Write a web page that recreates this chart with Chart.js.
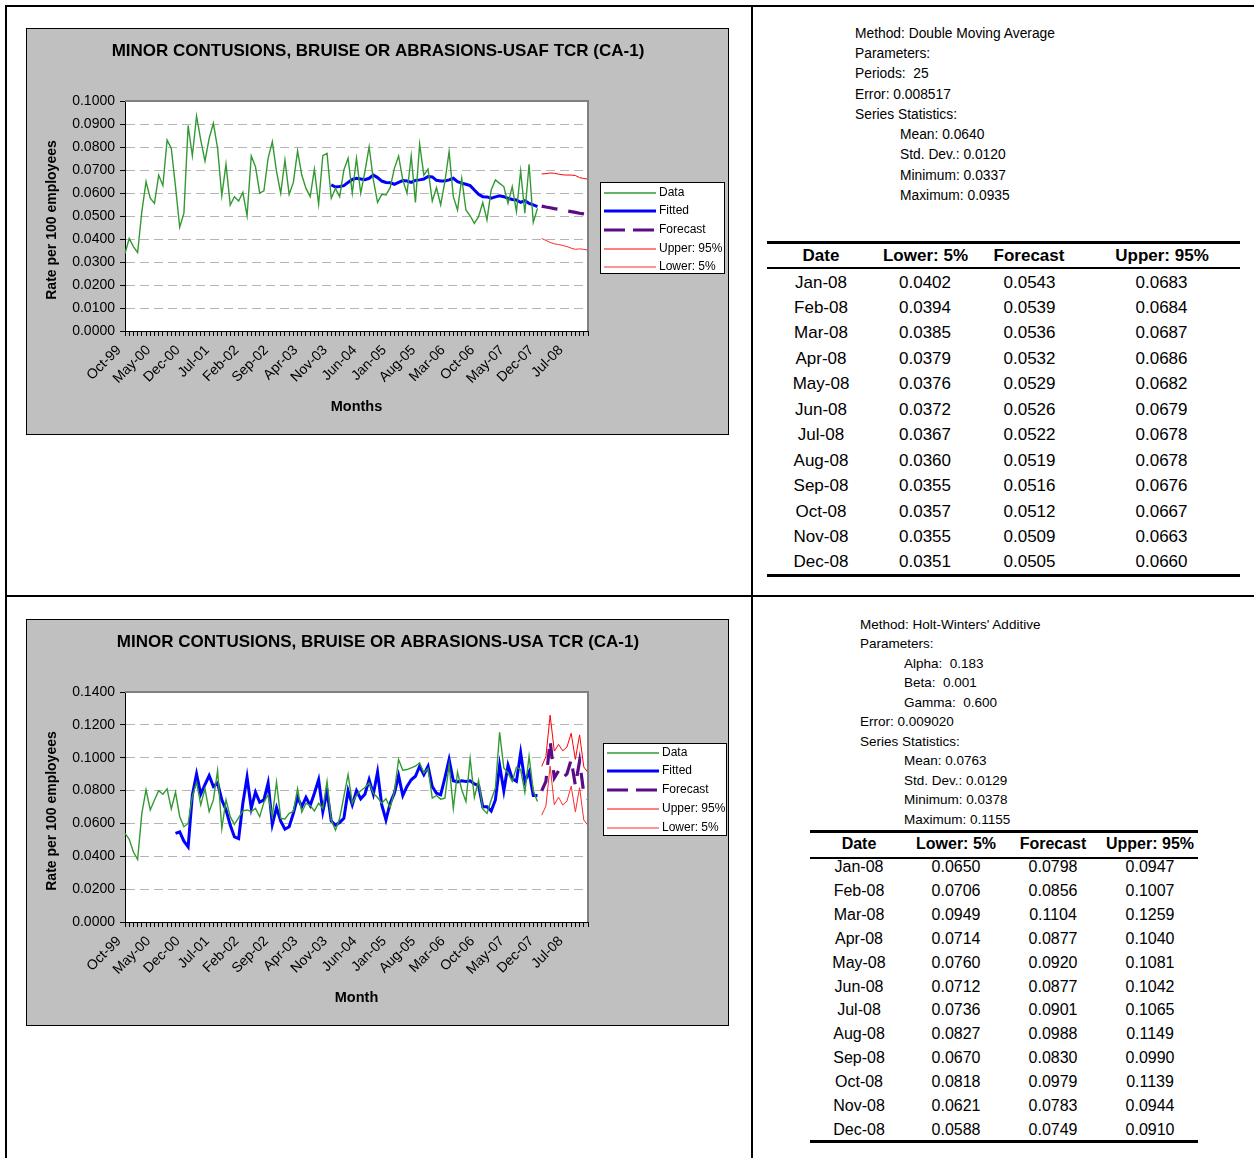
<!DOCTYPE html>
<html>
<head>
<meta charset="utf-8">
<title>Minor contusions, bruise or abrasions TCR (CA-1)</title>
<script src="https://cdn.jsdelivr.net/npm/chart.js@4.4.1/dist/chart.umd.min.js"></script>
<style>
  html, body { margin: 0; padding: 0; background: #fff; }
  body { width: 1254px; height: 1158px; position: relative; overflow: hidden;
         font-family: "Liberation Sans", Arial, sans-serif; color: #000; }
  .rule { position: absolute; background: #000; }
  .box { position: absolute; background: #c0c0c0; border: 1px solid #000; }
  .box canvas { display: block; }
  .t { position: absolute; white-space: pre; line-height: 1; }
  .c { position: absolute; white-space: pre; line-height: 1; text-align: center; width: 160px; }
</style>
</head>
<body>

<!-- page grid -->
<div class="rule" style="left:5px;top:5px;width:1249px;height:2px"></div>
<div class="rule" style="left:5px;top:5px;width:2px;height:1153px"></div>
<div class="rule" style="left:751px;top:5px;width:2px;height:1153px"></div>
<div class="rule" style="left:5px;top:595px;width:1249px;height:2px"></div>

<div class="box" style="left:26px;top:28px;width:701px;height:405px"><canvas id="usafChart" width="701" height="405"></canvas></div>
<div class="box" style="left:26px;top:619px;width:701px;height:405px"><canvas id="usaChart" width="701" height="405"></canvas></div>

<div id="usafStats"></div>
<div id="usafTable"></div>
<div id="usaStats"></div>
<div id="usaTable"></div>

<script>
// ---- categories -------------------------------------------------------
const months = [
  'Oct-99','Nov-99','Dec-99',
  'Jan-00','Feb-00','Mar-00','Apr-00','May-00','Jun-00','Jul-00','Aug-00','Sep-00','Oct-00','Nov-00','Dec-00',
  'Jan-01','Feb-01','Mar-01','Apr-01','May-01','Jun-01','Jul-01','Aug-01','Sep-01','Oct-01','Nov-01','Dec-01',
  'Jan-02','Feb-02','Mar-02','Apr-02','May-02','Jun-02','Jul-02','Aug-02','Sep-02','Oct-02','Nov-02','Dec-02',
  'Jan-03','Feb-03','Mar-03','Apr-03','May-03','Jun-03','Jul-03','Aug-03','Sep-03','Oct-03','Nov-03','Dec-03',
  'Jan-04','Feb-04','Mar-04','Apr-04','May-04','Jun-04','Jul-04','Aug-04','Sep-04','Oct-04','Nov-04','Dec-04',
  'Jan-05','Feb-05','Mar-05','Apr-05','May-05','Jun-05','Jul-05','Aug-05','Sep-05','Oct-05','Nov-05','Dec-05',
  'Jan-06','Feb-06','Mar-06','Apr-06','May-06','Jun-06','Jul-06','Aug-06','Sep-06','Oct-06','Nov-06','Dec-06',
  'Jan-07','Feb-07','Mar-07','Apr-07','May-07','Jun-07','Jul-07','Aug-07','Sep-07','Oct-07','Nov-07','Dec-07',
  'Jan-08','Feb-08','Mar-08','Apr-08','May-08','Jun-08','Jul-08','Aug-08','Sep-08','Oct-08','Nov-08','Dec-08'
];
const axisTickLabels = ['Oct-99','May-00','Dec-00','Jul-01','Feb-02','Sep-02','Apr-03','Nov-03',
  'Jun-04','Jan-05','Aug-05','Mar-06','Oct-06','May-07','Dec-07','Jul-08'];
const forecastMonths = ['Jan-08','Feb-08','Mar-08','Apr-08','May-08','Jun-08',
  'Jul-08','Aug-08','Sep-08','Oct-08','Nov-08','Dec-08'];

// ---- USAF: monthly rate, Oct-99 .. Dec-07 -------------------------------
const usafData = [
  0.0337, 0.0403, 0.0367, 0.0341, 0.0519, 0.0649, 0.0577, 0.0555, 0.0678, 0.0632,
  0.0830, 0.0794, 0.0628, 0.0451, 0.0512, 0.0893, 0.0762, 0.0935, 0.0830, 0.0739,
  0.0838, 0.0903, 0.0794, 0.0588, 0.0725, 0.0548, 0.0584, 0.0565, 0.0603, 0.0501,
  0.0761, 0.0714, 0.0599, 0.0609, 0.0751, 0.0823, 0.0693, 0.0599, 0.0743, 0.0594,
  0.0646, 0.0783, 0.0678, 0.0620, 0.0584, 0.0704, 0.0551, 0.0762, 0.0772, 0.0577,
  0.0620, 0.0584, 0.0700, 0.0751, 0.0599, 0.0751, 0.0599, 0.0693, 0.0801, 0.0657,
  0.0559, 0.0594, 0.0591, 0.0623, 0.0707, 0.0761, 0.0657, 0.0599, 0.0761, 0.0559,
  0.0812, 0.0678, 0.0704, 0.0565, 0.0623, 0.0548, 0.0649, 0.0780, 0.0584, 0.0526,
  0.0664, 0.0526, 0.0501, 0.0468, 0.0497, 0.0559, 0.0483, 0.0613, 0.0657, 0.0642,
  0.0628, 0.0555, 0.0628, 0.0519, 0.0696, 0.0512, 0.0725, 0.0472, 0.0533
];
// double moving average fit, Nov-03 .. Dec-07
const usafFittedStart = 'Nov-03';
const usafFitted = [
  0.0635, 0.0626, 0.0628, 0.0632, 0.0646, 0.0659, 0.0664, 0.0661, 0.0658, 0.0664,
  0.0678, 0.0667, 0.0652, 0.0646, 0.0645, 0.0638, 0.0646, 0.0654, 0.0652, 0.0646,
  0.0655, 0.0657, 0.0661, 0.0672, 0.0670, 0.0655, 0.0652, 0.0652, 0.0657, 0.0664,
  0.0649, 0.0643, 0.0638, 0.0632, 0.0613, 0.0594, 0.0584, 0.0583, 0.0577, 0.0583,
  0.0588, 0.0584, 0.0577, 0.0572, 0.0570, 0.0559, 0.0567, 0.0555, 0.0548, 0.0541
];
const usafLower    = [0.0402, 0.0394, 0.0385, 0.0379, 0.0376, 0.0372, 0.0367, 0.0360, 0.0355, 0.0357, 0.0355, 0.0351];
const usafForecast = [0.0543, 0.0539, 0.0536, 0.0532, 0.0529, 0.0526, 0.0522, 0.0519, 0.0516, 0.0512, 0.0509, 0.0505];
const usafUpper    = [0.0683, 0.0684, 0.0687, 0.0686, 0.0682, 0.0679, 0.0678, 0.0678, 0.0676, 0.0667, 0.0663, 0.0660];

// ---- USA: monthly rate, Oct-99 .. Dec-07 --------------------------------
const usaData = [
  0.0539, 0.0504, 0.0426, 0.0381, 0.0661, 0.0805, 0.0682, 0.0743, 0.0799, 0.0778,
  0.0811, 0.0688, 0.0790, 0.0641, 0.0580, 0.0600, 0.0764, 0.0850, 0.0713, 0.0811,
  0.0672, 0.0743, 0.0922, 0.0569, 0.0743, 0.0641, 0.0594, 0.0635, 0.0676, 0.0682,
  0.0672, 0.0692, 0.0641, 0.0729, 0.0774, 0.0641, 0.0852, 0.0631, 0.0627, 0.0661,
  0.0672, 0.0811, 0.0668, 0.0723, 0.0709, 0.0676, 0.0723, 0.0692, 0.0856, 0.0621,
  0.0559, 0.0631, 0.0764, 0.0897, 0.0723, 0.0774, 0.0799, 0.0819, 0.0846, 0.0784,
  0.0758, 0.0723, 0.0750, 0.0696, 0.0795, 0.0989, 0.0924, 0.0928, 0.0938, 0.0948,
  0.0969, 0.0907, 0.0934, 0.0754, 0.0770, 0.0748, 0.0754, 0.0958, 0.0692, 0.0913,
  0.0805, 0.0733, 0.0995, 0.0758, 0.0862, 0.0688, 0.0661, 0.0743, 0.0815, 0.1155,
  0.0938, 0.0907, 0.0856, 0.0942, 0.0928, 0.0790, 0.1010, 0.0799, 0.0733
];
// Holt-Winters additive fit, Oct-00 .. Dec-07
const usaFittedStart = 'Oct-00';
const usaFitted = [
  0.0539, 0.0549, 0.0492, 0.0457, 0.0774, 0.0901, 0.0778, 0.0836, 0.0891, 0.0825,
  0.0846, 0.0743, 0.0682, 0.0590, 0.0518, 0.0508, 0.0723, 0.0881, 0.0692, 0.0790,
  0.0729, 0.0743, 0.0846, 0.0594, 0.0696, 0.0614, 0.0565,
  0.0580, 0.0661, 0.0758, 0.0702, 0.0758, 0.0709, 0.0784, 0.0866, 0.0672, 0.0795,
  0.0614, 0.0590, 0.0606, 0.0631, 0.0799, 0.0713, 0.0799, 0.0750, 0.0778, 0.0866,
  0.0778, 0.0913, 0.0713, 0.0621, 0.0723, 0.0784, 0.0891, 0.0770, 0.0825, 0.0866,
  0.0887, 0.0948, 0.0897, 0.0948, 0.0825, 0.0784, 0.0774, 0.0877, 0.0989, 0.0860,
  0.0852, 0.0860, 0.0856, 0.0860, 0.0840, 0.0831, 0.0702, 0.0702, 0.0676, 0.0743,
  0.0954, 0.0799, 0.0954, 0.0872, 0.0856, 0.1030, 0.0856, 0.0913, 0.0770, 0.0770
];
const usaLower    = [0.0650, 0.0706, 0.0949, 0.0714, 0.0760, 0.0712, 0.0736, 0.0827, 0.0670, 0.0818, 0.0621, 0.0588];
const usaForecast = [0.0798, 0.0856, 0.1104, 0.0877, 0.0920, 0.0877, 0.0901, 0.0988, 0.0830, 0.0979, 0.0783, 0.0749];
const usaUpper    = [0.0947, 0.1007, 0.1259, 0.1040, 0.1081, 0.1042, 0.1065, 0.1149, 0.0990, 0.1139, 0.0944, 0.0910];

// ---- side panel text --------------------------------------------------
const usafStatsLines = [
  ['Method: Double Moving Average', 0], ['Parameters:', 0], ['Periods:  25', 0],
  ['Error: 0.008517', 0], ['Series Statistics:', 0],
  ['Mean: 0.0640', 1], ['Std. Dev.: 0.0120', 1], ['Minimum: 0.0337', 1], ['Maximum: 0.0935', 1]
];
const usaStatsLines = [
  ["Method: Holt-Winters' Additive", 0], ['Parameters:', 0],
  ['Alpha:  0.183', 1], ['Beta:  0.001', 1], ['Gamma:  0.600', 1],
  ['Error: 0.009020', 0], ['Series Statistics:', 0],
  ['Mean: 0.0763', 1], ['Std. Dev.: 0.0129', 1], ['Minimum: 0.0378', 1], ['Maximum: 0.1155', 1]
];
const tableHeader = ['Date', 'Lower: 5%', 'Forecast', 'Upper: 95%'];
const yAxisTitle = 'Rate per 100 employees';

// ---- helpers ------------------------------------------------------------
const FONT = '"Liberation Sans", Arial, sans-serif';

function placeAt(label, values) {
  const out = months.map(() => null);
  const s = months.indexOf(label);
  values.forEach((v, k) => { out[s + k] = v; });
  return out;
}

function addText(parent, cls, text, x, yCenter, size, bold) {
  const d = document.createElement('div');
  d.className = cls;
  d.textContent = text;
  d.style.fontSize = size + 'px';
  if (bold) d.style.fontWeight = 'bold';
  d.style.left = (cls === 'c' ? x - 80 : x) + 'px';
  d.style.top = (yCenter - size * 0.5) + 'px';
  parent.appendChild(d);
}

function addRule(parent, x, y, w, h) {
  const d = document.createElement('div');
  d.className = 'rule';
  Object.assign(d.style, { left: x + 'px', top: y + 'px', width: w + 'px', height: h + 'px' });
  parent.appendChild(d);
}

function buildStats(id, lines, x0, indent, y0, dy, size) {
  const el = document.getElementById(id);
  lines.forEach(([txt, ind], i) => addText(el, 't', txt, ind ? indent : x0, y0 + i * dy, size, false));
}

function buildTable(id, spec, lower, fc, upper) {
  const el = document.getElementById(id);
  tableHeader.forEach((h, c) => addText(el, 'c', h, spec.headX[c], spec.headY, spec.size, true));
  forecastMonths.forEach((m, r) => {
    const y = spec.rowY0 + r * spec.rowDy;
    const cells = [m, lower[r].toFixed(4), fc[r].toFixed(4), upper[r].toFixed(4)];
    cells.forEach((txt, c) => addText(el, 'c', txt, spec.colX[c], y, spec.size, false));
  });
  spec.rules.forEach(r => addRule(el, r[0], r[1], r[2], r[3]));
}

// white plot area, grey frame on its open sides, centred heading and y title
const plotFrame = {
  id: 'plotFrame',
  beforeDraw(chart, args, o) {
    const a = chart.chartArea, ctx = chart.ctx;
    ctx.save();
    ctx.fillStyle = '#ffffff';
    ctx.fillRect(a.left, a.top, a.right - a.left, a.bottom - a.top);
    ctx.fillStyle = '#000000';
    ctx.font = 'bold 17px ' + FONT;
    ctx.textAlign = 'center';
    ctx.textBaseline = 'middle';
    ctx.fillText(o.heading, o.headingX, o.headingY);
    ctx.translate(o.yTitleX, (a.top + a.bottom) / 2 + o.yTitleShift);
    ctx.rotate(-Math.PI / 2);
    ctx.font = 'bold 14px ' + FONT;
    ctx.fillText(yAxisTitle, 0, 0);
    ctx.restore();
  },
  afterDatasetsDraw(chart) {
    const a = chart.chartArea, ctx = chart.ctx;
    ctx.save();
    ctx.strokeStyle = '#808080';
    ctx.lineWidth = 2;
    ctx.beginPath();
    ctx.moveTo(a.left, a.top);
    ctx.lineTo(a.right, a.top);
    ctx.lineTo(a.right, a.bottom);
    ctx.stroke();
    ctx.restore();
  }
};

// boxed legend at a fixed spot beside the plot
const boxLegend = {
  id: 'boxLegend',
  afterDraw(chart, args, o) {
    const ctx = chart.ctx;
    ctx.save();
    ctx.fillStyle = '#ffffff';
    ctx.fillRect(o.x, o.y, o.w, o.h);
    ctx.strokeStyle = '#000000';
    ctx.lineWidth = 1;
    ctx.strokeRect(o.x + 0.5, o.y + 0.5, o.w, o.h);
    chart.data.datasets.forEach((ds, i) => {
      const y = Math.round(o.y + o.first + i * o.gap);
      ctx.beginPath();
      ctx.strokeStyle = ds.borderColor;
      ctx.lineWidth = ds.legendWidth || ds.borderWidth;
      ctx.setLineDash(ds.legendDash || []);
      ctx.moveTo(o.x + 4, y);
      ctx.lineTo(o.x + 56, y);
      ctx.stroke();
      ctx.setLineDash([]);
      ctx.fillStyle = '#000000';
      ctx.font = '12px ' + FONT;
      ctx.textBaseline = 'middle';
      ctx.textAlign = 'left';
      ctx.fillText(ds.label, o.x + 59, y);
    });
    ctx.restore();
  }
};

function makeChart(canvasId, cfg) {
  const datasets = [
    { label: 'Data', data: cfg.data, borderColor: '#339933', borderWidth: 1.4 },
    { label: 'Fitted', data: cfg.fitted, borderColor: '#0000ff', borderWidth: 3 },
    { label: 'Forecast', data: cfg.forecast, borderColor: '#5c0b86', borderWidth: 3.2,
      borderDash: [16, 11], legendDash: [21, 8] },
    { label: 'Upper: 95%', data: cfg.upper, borderColor: '#ff0000', borderWidth: 1, legendWidth: 1.2 },
    { label: 'Lower: 5%', data: cfg.lower, borderColor: '#ff2a2a', borderWidth: 1, legendWidth: 1.2 }
  ].map(d => Object.assign({ pointRadius: 0, pointHoverRadius: 0, tension: 0, fill: false, spanGaps: false }, d));

  return new Chart(document.getElementById(canvasId), {
    type: 'line',
    data: { labels: months, datasets },
    plugins: [plotFrame, boxLegend],
    options: {
      responsive: false,
      animation: false,
      devicePixelRatio: 1,
      layout: { padding: { left: 0, right: 140, top: 72, bottom: 0 } },
      plugins: {
        legend: { display: false },
        tooltip: { enabled: false },
        title: { display: false },
        plotFrame: { heading: cfg.title, headingX: 351, headingY: 22.5, yTitleX: 25.5, yTitleShift: 4 },
        boxLegend: cfg.legend
      },
      scales: {
        x: {
          type: 'category', offset: false,
          grid: { display: true, drawOnChartArea: false, drawTicks: true, tickLength: 5,
                  tickColor: '#000', tickWidth: 1, tickBorderDash: [] },
          border: { display: true, color: '#000', width: 1 },
          ticks: {
            autoSkip: false, minRotation: 45, maxRotation: 45, padding: 6, labelOffset: -6,
            color: '#000', font: { family: FONT, size: 14 },
            callback: function (value) {
              const lab = this.getLabelForValue(value);
              return axisTickLabels.includes(lab) ? lab : '';
            }
          },
          title: { display: true, text: cfg.xTitle, color: '#000',
                   font: { family: FONT, size: 14.5, weight: 'bold', lineHeight: 1.2 },
                   padding: { top: 0, bottom: 18 } },
          afterFit(scale) { scale.height = 103; }
        },
        y: {
          min: 0, max: cfg.yMax,
          grid: {
            drawOnChartArea: true, drawTicks: true, tickLength: 5,
            color: (c) => (c.tick && c.tick.value === 0) ? 'rgba(0,0,0,0)' : '#b4b4b4',
            tickColor: '#000', tickWidth: 1, tickBorderDash: []
          },
          border: { display: true, color: '#000', width: 1, dash: [9, 5] },
          ticks: {
            stepSize: cfg.yStep, padding: 5, color: '#000',
            font: { family: FONT, size: 14 },
            callback: (v) => Number(v).toFixed(4)
          },
          title: { display: false },
          afterFit(scale) { scale.width = 98; }
        }
      }
    }
  });
}

makeChart('usafChart', {
  title: 'MINOR CONTUSIONS, BRUISE OR ABRASIONS-USAF TCR (CA-1)',
  xTitle: 'Months', yMax: 0.1, yStep: 0.01,
  data: usafData.concat(forecastMonths.map(() => null)),
  fitted: placeAt(usafFittedStart, usafFitted),
  forecast: placeAt(forecastMonths[0], usafForecast),
  upper: placeAt(forecastMonths[0], usafUpper),
  lower: placeAt(forecastMonths[0], usafLower),
  legend: { x: 573, y: 153, w: 124, h: 91, first: 10.5, gap: 18.7 }
});

makeChart('usaChart', {
  title: 'MINOR CONTUSIONS, BRUISE OR ABRASIONS-USA TCR (CA-1)',
  xTitle: 'Month', yMax: 0.14, yStep: 0.02,
  data: usaData.concat(forecastMonths.map(() => null)),
  fitted: placeAt(usaFittedStart, usaFitted),
  forecast: placeAt(forecastMonths[0], usaForecast),
  upper: placeAt(forecastMonths[0], usaUpper),
  lower: placeAt(forecastMonths[0], usaLower),
  legend: { x: 576, y: 123, w: 123, h: 92, first: 9.5, gap: 18.75 }
});

buildStats('usafStats', usafStatsLines, 855, 900, 33.5, 20.3, 13.8);
buildStats('usaStats', usaStatsLines, 860, 904, 624.5, 19.5, 13.5);

buildTable('usafTable', {
  size: 17, headY: 255, headX: [821, 925.5, 1029, 1162],
  colX: [821, 925, 1029.5, 1161.5], rowY0: 282, rowDy: 25.45,
  rules: [[767, 241, 473, 3], [767, 267, 473, 2], [767, 574, 473, 3]]
}, usafLower, usafForecast, usafUpper);

buildTable('usaTable', {
  size: 16, headY: 844, headX: [859, 956, 1053, 1150],
  colX: [859, 956, 1053, 1150], rowY0: 867, rowDy: 23.9,
  rules: [[810, 830, 388, 3], [810, 857, 388, 2], [810, 1140, 388, 3]]
}, usaLower, usaForecast, usaUpper);
</script>
</body>
</html>
